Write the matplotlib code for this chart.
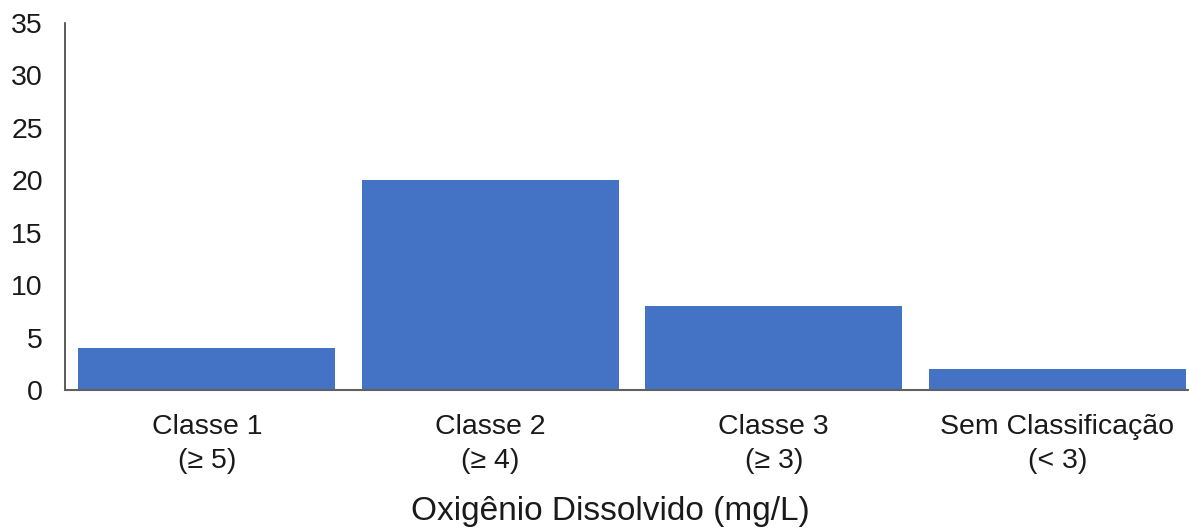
import matplotlib
matplotlib.use("Agg")
import matplotlib.pyplot as plt

categories = ["Classe 1\n(≥ 5)", "Classe 2\n(≥ 4)", "Classe 3\n(≥ 3)", "Sem Classificação\n(< 3)"]
values = [4, 20, 8, 2]
yticks = [0, 5, 10, 15, 20, 25, 30, 35]
xlabel = "Oxigênio Dissolvido (mg/L)"

plt.rcParams['font.family'] = ['Liberation Sans', 'DejaVu Sans']

fig = plt.figure(figsize=(11.89, 5.29), dpi=100)
ax = fig.add_axes([65/1189, 139/529, (1199-65)/1189, 367/529])
x = list(range(len(categories)))
ax.bar(x, values, width=0.908, color="#4472C4")
ax.set_xlim(-0.5, len(categories) - 0.5)
ax.set_ylim(0, 35)
ax.set_yticks(yticks)
ax.set_xticks(x)
ax.set_xticklabels(categories, fontsize=20.5, color="#1a1a1a", linespacing=1.4)
ax.tick_params(axis='y', length=0, pad=16, labelsize=20.5, labelcolor="#1a1a1a")
ax.tick_params(axis='x', length=0, pad=17)
ax.set_xlabel(xlabel, fontsize=24, color="#1a1a1a", labelpad=16)
ax.xaxis.label.set_x(0.4806)
for s in ["top", "right"]:
    ax.spines[s].set_visible(False)
ax.spines["left"].set_color("#404040")
ax.spines["left"].set_linewidth(1.2)
ax.spines["bottom"].set_color("#606060")
ax.spines["bottom"].set_linewidth(1.5)
fig.savefig("out.png", dpi=100)
